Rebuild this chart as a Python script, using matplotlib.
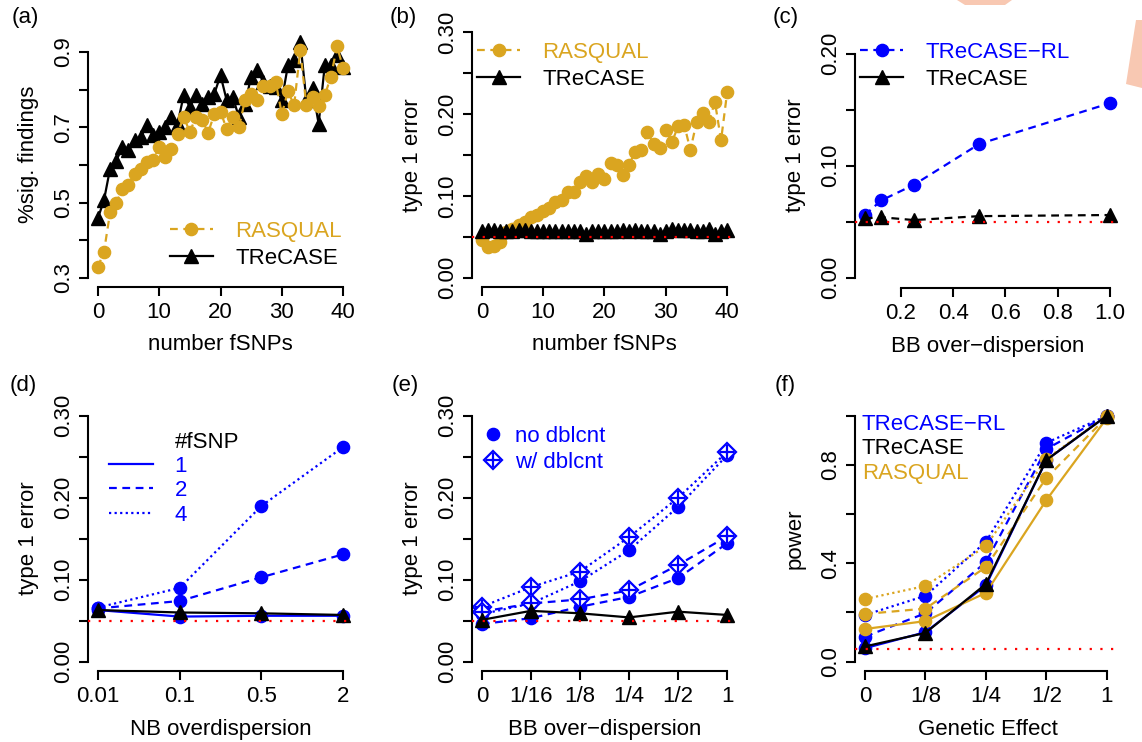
import numpy as np
import matplotlib
matplotlib.use('Agg')
import matplotlib.pyplot as plt
from matplotlib.lines import Line2D
from matplotlib.patches import Polygon

plt.rcParams['font.family'] = ['Liberation Sans', 'DejaVu Sans']
plt.rcParams['font.size'] = 16

GOLD = '#DAA520'
BLUE = '#0000FF'
RED = '#FF0000'

# (a), (b): number of fSNPs
n_fsnp = np.arange(41)
a_rasqual = [0.329, 0.369, 0.474, 0.500, 0.535, 0.546, 0.577, 0.590, 0.608, 0.612,
             0.648, 0.621, 0.643, 0.683, 0.727, 0.688, 0.727, 0.718, 0.686, 0.736,
             0.741, 0.696, 0.727, 0.700, 0.772, 0.789, 0.772, 0.809, 0.809, 0.820,
             0.735, 0.796, 0.758, 0.904, 0.758, 0.780, 0.756, 0.785, 0.834, 0.915,
             0.856]
a_trecase = [0.458, 0.506, 0.590, 0.610, 0.648, 0.639, 0.665, 0.674, 0.705, 0.679,
             0.688, 0.700, 0.727, 0.709, 0.785, 0.754, 0.785, 0.763, 0.780, 0.789,
             0.838, 0.772, 0.780, 0.727, 0.763, 0.834, 0.851, 0.820, 0.810, 0.807,
             0.772, 0.865, 0.878, 0.927, 0.772, 0.803, 0.709, 0.865, 0.865, 0.891,
             0.860]
b_rasqual = [0.046, 0.038, 0.039, 0.044, 0.056, 0.059, 0.064, 0.068, 0.074, 0.077,
             0.081, 0.085, 0.093, 0.095, 0.105, 0.105, 0.117, 0.124, 0.117, 0.127,
             0.121, 0.140, 0.138, 0.126, 0.138, 0.154, 0.156, 0.178, 0.163, 0.159,
             0.181, 0.166, 0.185, 0.187, 0.156, 0.190, 0.201, 0.190, 0.215, 0.168,
             0.227]
b_trecase = [0.057, 0.058, 0.058, 0.057, 0.057, 0.057, 0.058, 0.058, 0.057, 0.057,
             0.057, 0.057, 0.057, 0.057, 0.057, 0.057, 0.057, 0.053, 0.057, 0.057,
             0.057, 0.057, 0.057, 0.058, 0.057, 0.058, 0.057, 0.057, 0.057, 0.053,
             0.057, 0.060, 0.058, 0.058, 0.058, 0.057, 0.057, 0.060, 0.053, 0.057,
             0.058]

# (c)
c_bb = [1/16, 1/8, 1/4, 1/2, 1]
c_trecase_rl = [0.056, 0.069, 0.083, 0.1195, 0.156]
c_trecase = [0.053, 0.054, 0.0515, 0.055, 0.056]

# (d)
d_labels = ['0.01', '0.1', '0.5', '2']
d_fsnp1 = [0.063, 0.055, 0.056, 0.056]
d_fsnp2 = [0.065, 0.074, 0.103, 0.131]
d_fsnp4 = [0.066, 0.090, 0.190, 0.262]
d_trecase = [0.063, 0.060, 0.059, 0.057]

# (e)
e_labels = ['0', '1/16', '1/8', '1/4', '1/2', '1']
e_no_dotted = [0.058, 0.071, 0.098, 0.136, 0.189, 0.252]
e_no_dashed = [0.046, 0.053, 0.067, 0.079, 0.102, 0.1445]
e_w_dotted = [0.067, 0.091, 0.110, 0.152, 0.200, 0.256]
e_w_dashed = [0.061, 0.071, 0.076, 0.087, 0.118, 0.153]
e_trecase = [0.051, 0.062, 0.059, 0.054, 0.061, 0.057]

# (f)
f_labels = ['0', '1/8', '1/4', '1/2', '1']
f_rl_dotted = [0.190, 0.268, 0.488, 0.890, 1.0]
f_rl_dashed = [0.102, 0.197, 0.405, 0.865, 1.0]
f_rl_solid = [0.055, 0.120, 0.310, 0.820, 1.0]
f_ras_dotted = [0.255, 0.308, 0.470, 0.825, 1.0]
f_ras_dashed = [0.194, 0.216, 0.385, 0.747, 0.995]
f_ras_solid = [0.133, 0.165, 0.280, 0.657, 0.99]
f_trecase = [0.062, 0.117, 0.316, 0.820, 1.0]

W, H = 1142, 742
fig = plt.figure(figsize=(W / 100, H / 100), dpi=100)

DASH = (0, (3.5, 2.5))
DOT = (0, (1, 1.5))
REDDOT = (0, (1, 3.8))
MS = 8.8
TS = 10
LW = 1.6


def r_axes(rect, xlim, ylim, xticks, xticklabels, yticks, yticklabels, xlabel, ylabel):
    L, T, R, B = rect
    ax = fig.add_axes([L / W, 1 - B / H, (R - L) / W, (B - T) / H])
    ax.set_xlim(xlim)
    ax.set_ylim(ylim)
    ax.patch.set_alpha(0)
    for s in ['top', 'right']:
        ax.spines[s].set_visible(False)
    for s in ['left', 'bottom']:
        ax.spines[s].set_linewidth(1.5)
    ax.spines['left'].set_bounds(yticks[0], yticks[-1])
    ax.spines['bottom'].set_bounds(xticks[0], xticks[-1])
    ax.set_xticks(xticks, xticklabels)
    ax.set_yticks(yticks, yticklabels, rotation=90, va='center')
    ax.tick_params(length=6.5, width=1.5, labelsize=16)
    ax.tick_params(axis='x', pad=4.3)
    ax.tick_params(axis='y', pad=3.6)
    ax.set_xlabel(xlabel, fontsize=16)
    ax.set_ylabel(ylabel, fontsize=16)
    ax.xaxis.set_label_coords(0.5, -0.219)
    ax.xaxis.label.set_va('center')
    ax.yaxis.set_label_coords(-0.226, 0.5)
    ax.yaxis.label.set_va('center')
    return ax


def legend(ax, handles, labels, colors, anchor, hl, htp, ls):
    leg = ax.legend(handles, labels, loc='center left', bbox_to_anchor=anchor,
                    frameon=False, handlelength=hl, handletextpad=htp,
                    labelspacing=ls, borderpad=0, borderaxespad=0, fontsize=16)
    for t, c in zip(leg.get_texts(), colors):
        t.set_color(c)
    return leg


def redline(ax):
    ax.axhline(0.05, color=RED, ls=REDDOT, lw=LW, zorder=5)


top_row, bot_row = (22.5, 287), (406, 671)
cols = [(88, 353), (472, 737), (855, 1120)]

# (a)
ax = r_axes((cols[0][0], top_row[0], cols[0][1], top_row[1]), (-1.6, 41.6), (0.276, 0.978),
            [0, 10, 20, 30, 40], ['0', '10', '20', '30', '40'],
            [0.3, 0.4, 0.5, 0.6, 0.7, 0.8, 0.9], ['0.3', '', '0.5', '', '0.7', '', '0.9'],
            'number fSNPs', '%sig. findings')
ax.plot(n_fsnp, a_trecase, color='black', ls='-', lw=LW, marker='^', ms=TS)
ax.plot(n_fsnp, a_rasqual, color=GOLD, ls=DASH, lw=LW, marker='o', ms=MS)
legend(ax, [Line2D([], [], color=GOLD, ls=DASH, lw=LW, marker='o', ms=MS),
            Line2D([], [], color='black', ls='-', lw=LW, marker='^', ms=TS)],
       ['RASQUAL', 'TReCASE'], [GOLD, 'black'], (0.308, 0.159), 1.95, 1.0, 0.25)

# (b)
ax = r_axes((cols[1][0], top_row[0], cols[1][1], top_row[1]), (-1.6, 41.6), (-0.0114, 0.312),
            [0, 10, 20, 30, 40], ['0', '10', '20', '30', '40'],
            [0, 0.05, 0.1, 0.15, 0.2, 0.25, 0.3], ['0.00', '', '0.10', '', '0.20', '', '0.30'],
            'number fSNPs', 'type 1 error')
ax.plot(n_fsnp, b_rasqual, color=GOLD, ls=DASH, lw=LW, marker='o', ms=MS)
ax.plot(n_fsnp, b_trecase, color='black', ls='-', lw=LW, marker='^', ms=TS)
redline(ax)
legend(ax, [Line2D([], [], color=GOLD, ls=DASH, lw=LW, marker='o', ms=MS),
            Line2D([], [], color='black', ls='-', lw=LW, marker='^', ms=TS)],
       ['RASQUAL', 'TReCASE'], [GOLD, 'black'], (0.019, 0.836), 1.95, 1.0, 0.25)

# (c)
ax = r_axes((cols[2][0], top_row[0], cols[2][1], 288), (0.025, 1.0375), (-0.0092, 0.228),
            [0.2, 0.4, 0.6, 0.8, 1.0], ['0.2', '0.4', '0.6', '0.8', '1.0'],
            [0, 0.05, 0.1, 0.15, 0.2], ['0.00', '', '0.10', '', '0.20'],
            'BB over\u2212dispersion', 'type 1 error')
ax.plot(c_bb, c_trecase_rl, color=BLUE, ls=DASH, lw=LW, marker='o', ms=MS)
ax.plot(c_bb, c_trecase, color='black', ls=DASH, lw=LW, marker='^', ms=TS)
redline(ax)
legend(ax, [Line2D([], [], color=BLUE, ls=DASH, lw=LW, marker='o', ms=MS),
            Line2D([], [], color='black', ls='-', lw=LW, marker='^', ms=TS)],
       ['TReCASE\u2212RL', 'TReCASE'], [BLUE, 'black'], (0.019, 0.836), 1.95, 1.0, 0.25)

# (d)
xd = np.arange(1, len(d_labels) + 1)
ax = r_axes((cols[0][0], bot_row[0], cols[0][1], bot_row[1]), (0.88, 4.12), (-0.0114, 0.312),
            list(xd), d_labels,
            [0, 0.05, 0.1, 0.15, 0.2, 0.25, 0.3], ['0.00', '', '0.10', '', '0.20', '', '0.30'],
            'NB overdispersion', 'type 1 error')
ax.plot(xd, d_fsnp1, color=BLUE, ls='-', lw=LW, marker='o', ms=MS)
ax.plot(xd, d_fsnp2, color=BLUE, ls=DASH, lw=LW, marker='o', ms=MS)
ax.plot(xd, d_fsnp4, color=BLUE, ls=DOT, lw=LW, marker='o', ms=MS)
ax.plot(xd, d_trecase, color='black', ls='-', lw=LW, marker='^', ms=TS)
redline(ax)
legend(ax, [Line2D([], [], ls='none'),
            Line2D([], [], color=BLUE, ls='-', lw=LW),
            Line2D([], [], color=BLUE, ls=DASH, lw=LW),
            Line2D([], [], color=BLUE, ls=DOT, lw=LW)],
       ['#fSNP', '1', '2', '4'], ['black', BLUE, BLUE, BLUE], (0.079, 0.726), 2.0, 0.95, 0.15)

# (e)
xe = np.arange(len(e_labels))
ax = r_axes((cols[1][0], bot_row[0], cols[1][1], bot_row[1]), (-0.2, 5.2), (-0.0114, 0.312),
            list(xe), e_labels,
            [0, 0.05, 0.1, 0.15, 0.2, 0.25, 0.3], ['0.00', '', '0.10', '', '0.20', '', '0.30'],
            'BB over\u2212dispersion', 'type 1 error')
for vals, ls in [(e_no_dotted, DOT), (e_no_dashed, DASH)]:
    ax.plot(xe, vals, color=BLUE, ls=ls, lw=LW, marker='o', ms=MS)
for vals, ls in [(e_w_dotted, DOT), (e_w_dashed, DASH)]:
    ax.plot(xe, vals, color=BLUE, ls=ls, lw=LW, marker='D', ms=9, mfc='white', mew=1.6)
    ax.plot(xe, vals, color=BLUE, ls='none', marker='+', ms=10, mew=1.6)
ax.plot(xe, e_trecase, color='black', ls='-', lw=LW, marker='^', ms=TS)
redline(ax)
legend(ax, [Line2D([], [], color=BLUE, ls='none', marker='o', ms=MS),
            (Line2D([], [], color=BLUE, ls='none', marker='D', ms=9, mfc='white', mew=1.6),
             Line2D([], [], color=BLUE, ls='none', marker='+', ms=10, mew=1.6))],
       ['no dblcnt', 'w/ dblcnt'], [BLUE, BLUE], (0.038, 0.836), 1.0, 0.5, 0.2)

# (f)
xf = np.arange(len(f_labels))
ax = r_axes((cols[2][0], bot_row[0], cols[2][1], bot_row[1]), (-0.167, 4.22), (-0.038, 1.04),
            list(xf), f_labels,
            [0, 0.2, 0.4, 0.6, 0.8, 1.0], ['0.0', '', '0.4', '', '0.8', ''],
            'Genetic Effect', 'power')
for vals, ls in [(f_rl_dotted, DOT), (f_rl_dashed, DASH), (f_rl_solid, '-')]:
    ax.plot(xf, vals, color=BLUE, ls=ls, lw=LW, marker='o', ms=MS)
for vals, ls in [(f_ras_dotted, DOT), (f_ras_dashed, DASH), (f_ras_solid, '-')]:
    ax.plot(xf, vals, color=GOLD, ls=ls, lw=LW, marker='o', ms=MS)
ax.plot(xf, f_trecase, color='black', ls='-', lw=LW, marker='^', ms=TS, clip_on=False)
redline(ax)
legend(ax, [Line2D([], [], ls='none')] * 3,
       ['TReCASE\u2212RL', 'TReCASE', 'RASQUAL'], [BLUE, 'black', GOLD],
       (0.026, 0.838), 0, 0, 0.15)

# panel letters
for lab, (x, y) in zip(['(a)', '(b)', '(c)', '(d)', '(e)', '(f)'],
                       [(12, 17), (390, 17), (773, 17), (10, 385), (392, 385), (775, 385)]):
    fig.text(x / W, 1 - y / H, lab, ha='left', va='center', fontsize=16)

# peach shapes in the top right corner of the source image
PEACH = '#F8C8B2'
for pts in [[(957, 0), (1012, 0), (1005, 5), (965, 5)],
            [(1136, 20), (1142, 20), (1142, 88), (1126, 84)]]:
    fig.patches.append(Polygon([(x / W, 1 - y / H) for x, y in pts], closed=True,
                               transform=fig.transFigure, facecolor=PEACH,
                               edgecolor='none', zorder=0))

fig.savefig('out.png', dpi=100)
